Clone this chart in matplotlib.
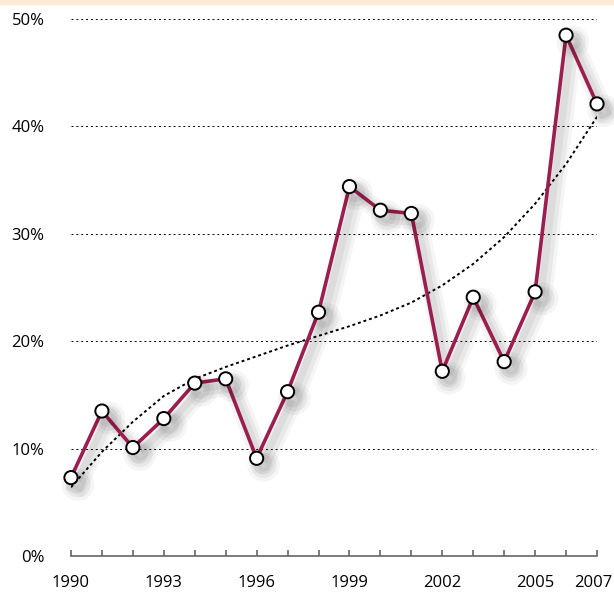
import matplotlib.pyplot as plt
import matplotlib.patheffects as pe
import matplotlib.transforms as mtransforms
import numpy as np

years = list(range(1990, 2008))
share = [7.3, 13.5, 10.1, 12.8, 16.1, 16.5, 9.1, 15.3, 22.7, 34.4,
         32.2, 31.9, 17.2, 24.1, 18.1, 24.6, 48.5, 42.1]
trend = [6.4, 9.7, 12.5, 14.9, 16.5, 17.6, 18.6, 19.6, 20.5, 21.4,
         22.4, 23.6, 25.2, 27.2, 29.7, 32.8, 36.5, 40.9]
x_ticks = [1990, 1993, 1996, 1999, 2002, 2005, 2007]
y_ticks = [0, 10, 20, 30, 40, 50]

plt.rcParams['font.family'] = ['Open Sans', 'DejaVu Sans']

fig = plt.figure(figsize=(6.14, 5.96), dpi=100)
# thin peach band at the very top
fig.patches.append(plt.Rectangle((0, 0.994), 1, 0.006, transform=fig.transFigure,
                                 color='#fde9d6', zorder=0))

ax = fig.add_axes([0.1156, 0.0671, 0.8567, 0.9009])

ax.plot(years, trend, color='black', linestyle=(0, (1.5, 1.5)), linewidth=1.4, zorder=2)

# soft drop shadow under the main line
shadow = [pe.SimpleLineShadow(offset=(5, -5), shadow_color='black', alpha=0.04, linewidth=14),
          pe.SimpleLineShadow(offset=(5, -5), shadow_color='black', alpha=0.05, linewidth=9),
          pe.SimpleLineShadow(offset=(4, -4), shadow_color='black', alpha=0.05, linewidth=5),
          pe.Normal()]
ax.plot(years, share, color='#9c1d4f', linewidth=2.6, marker='o', markersize=9.5,
        markerfacecolor='white', markeredgecolor='black', markeredgewidth=1.4,
        path_effects=shadow, clip_on=False, zorder=3)

ax.set_xlim(1990, 2007)
ax.set_ylim(0, 50)
ax.set_xticks(years)
ax.set_xticklabels([str(y) if y in x_ticks else '' for y in years])
ax.set_yticks(y_ticks)
ax.set_yticklabels([f'{v}%' for v in y_ticks])

for s in ['top', 'right', 'left']:
    ax.spines[s].set_visible(False)
ax.spines['bottom'].set_color('#666666')
ax.spines['bottom'].set_linewidth(1.2)

ax.tick_params(axis='x', direction='in', length=4, width=1.2, color='#666666',
               pad=14, labelsize=12, labelcolor='black')
ax.tick_params(axis='y', length=0, pad=19, labelsize=12, labelcolor='black')

# nudge the last year label so it stays inside the picture
last = ax.get_xticklabels()[-1]
last.set_transform(last.get_transform() + mtransforms.ScaledTranslation(-3 / 72, 0, fig.dpi_scale_trans))

for v in y_ticks[1:]:
    ax.axhline(v, color='black', linestyle=(0, (2, 3)), linewidth=0.7, zorder=1)

fig.savefig('out.png', dpi=100)
